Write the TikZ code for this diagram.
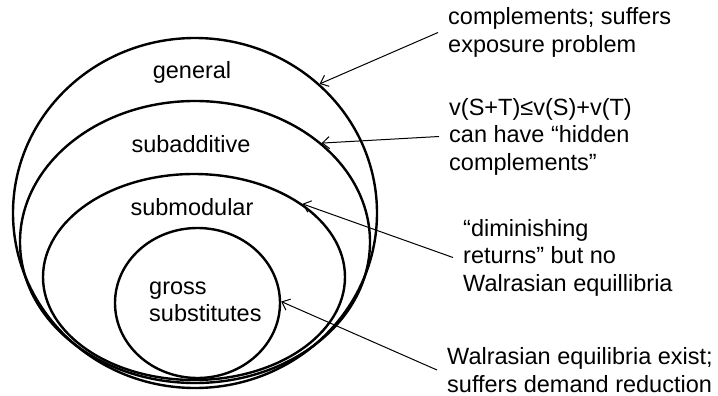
\documentclass[tikz,border=0pt]{standalone}
\usepackage{fontspec}
\setmainfont{Liberation Sans}
\usetikzlibrary{shapes.geometric,arrows.meta}
\begin{document}
\begin{tikzpicture}[x=1pt,y=-1pt,
  setbox/.style={ellipse,draw,line width=2.4pt,inner sep=0pt},
  lbl/.style={font=\fontsize{23.5}{27.5}\selectfont,inner sep=0pt},
  note/.style={font=\fontsize{23.5}{27.5}\selectfont,align=left,anchor=west,inner xsep=10pt,inner ysep=0pt},
  pointer/.style={-{Straight Barb[length=7pt,width=12pt]},line width=1pt}]
\useasboundingbox (0,0) rectangle (718,396);
% nested sets
\node[setbox,minimum width=364pt,minimum height=350pt] (gen) at (195,213) {};
\node[setbox,minimum width=350pt,minimum height=282pt] (sub) at (195,242) {};
\node[setbox,minimum width=302pt,minimum height=206pt] (mod) at (194,277) {};
\node[setbox,minimum width=165pt,minimum height=150pt] (gs) at (197.5,303) {};
% set labels
\node[lbl] (lgen) at (192,72) {general};
\node[lbl] (lsub) at (191,144) {subadditive};
\node[lbl] (lmod) at (192,207) {submodular};
\node[lbl,align=left,anchor=west] (lgs) at (149,302) {gross\\substitutes};
% notes
\node[note] (n1) at (438,32.5) {complements; suffers\\exposure problem};
\node[note] (n2) at (439,136.5) {v(S+T)≤v(S)+v(T)\\can have “hidden\\complements”};
\node[note] (n3) at (453,257.5) {“diminishing\\returns” but no\\Walrasian equillibria};
\node[note] (n4) at (437,370) {Walrasian equilibria exist;\\suffers demand reduction};
% pointers
\draw[pointer] (n1.west) -- (gen.46.6);
\draw[pointer] (n2.west) -- (sub.38.8);
\draw[pointer] (n3.west) -- (mod.34.2);
\draw[pointer] (n4.west) -- (gs.1.3);
\end{tikzpicture}
\end{document}
